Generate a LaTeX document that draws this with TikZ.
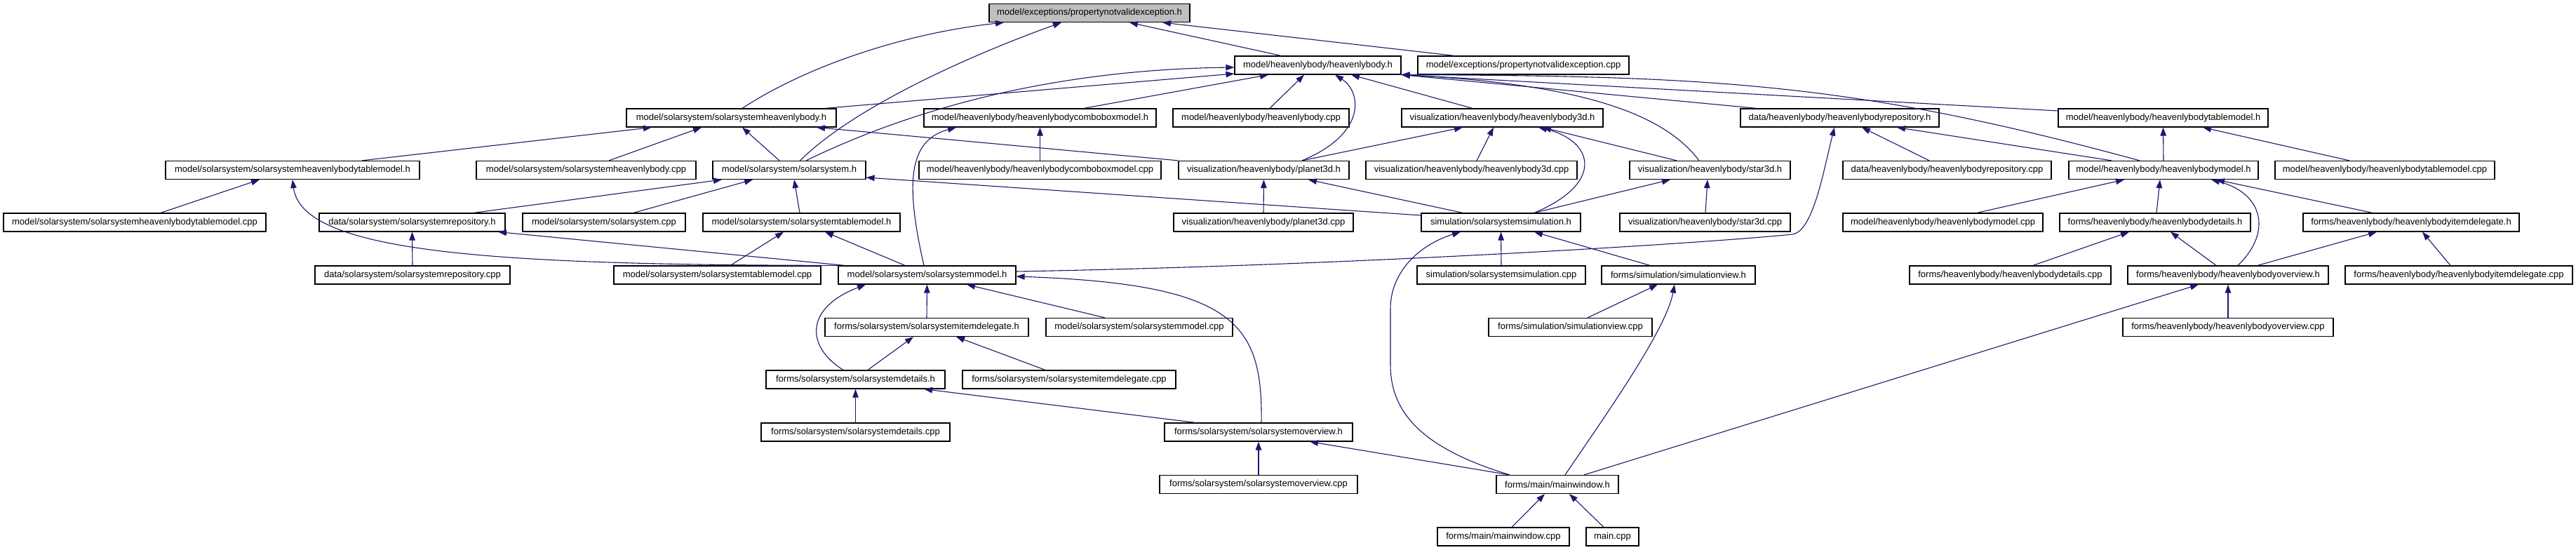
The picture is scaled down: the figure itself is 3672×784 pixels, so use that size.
\documentclass[tikz,border=0pt]{standalone}
\usepackage{fontspec}
\setmainfont{Liberation Sans}
\usetikzlibrary{arrows.meta}
\definecolor{edgeblue}{HTML}{191970}
\definecolor{rootgray}{HTML}{BFBFBF}
\tikzset{
  box/.style={draw=black, line width=1.2pt, fill=white, minimum height=26pt, inner sep=0pt, font=\fontsize{13}{15}\selectfont},
  rootbox/.style={box, fill=rootgray},
  dep/.style={draw=edgeblue, line width=1.1pt, -{Triangle[length=12pt,width=8.5pt]}},
}
\begin{document}
\begin{tikzpicture}[x=1pt,y=-1pt]
\fill[white] (0,0) rectangle (3672,784);
% row 0
\node[rootbox, minimum width=286pt] (n0) at (1553,18.5) {model/exceptions/propertynotvalidexception.h};
% row 1
\node[box, minimum width=237pt] (hbh) at (1878.5,93) {model/heavenlybody/heavenlybody.h};
\node[box, minimum width=301pt] (pnvecpp) at (2171.5,93) {model/exceptions/propertynotvalidexception.cpp};
% row 2
\node[box, minimum width=299pt] (sshbh) at (1042.5,168) {model/solarsystem/solarsystemheavenlybody.h};
\node[box, minimum width=331pt] (hbcomboh) at (1482.5,168) {model/heavenlybody/heavenlybodycomboboxmodel.h};
\node[box, minimum width=251pt] (hbcpp) at (1797.5,168) {model/heavenlybody/heavenlybody.cpp};
\node[box, minimum width=287pt] (hb3dh) at (2141.5,168) {visualization/heavenlybody/heavenlybody3d.h};
\node[box, minimum width=283pt] (hbrepoh) at (2622.5,168) {data/heavenlybody/heavenlybodyrepository.h};
\node[box, minimum width=299pt] (hbtableh) at (3083.5,168) {model/heavenlybody/heavenlybodytablemodel.h};
% row 3
\node[box, minimum width=362pt] (sshbtableh) at (417,242.5) {model/solarsystem/solarsystemheavenlybodytablemodel.h};
\node[box, minimum width=313pt] (sshbcpp) at (835.5,242.5) {model/solarsystem/solarsystemheavenlybody.cpp};
\node[box, minimum width=218pt] (ssh) at (1125,242.5) {model/solarsystem/solarsystem.h};
\node[box, minimum width=345pt] (hbcombocpp) at (1482.5,242.5) {model/heavenlybody/heavenlybodycomboboxmodel.cpp};
\node[box, minimum width=243pt] (planet3dh) at (1801.5,242.5) {visualization/heavenlybody/planet3d.h};
\node[box, minimum width=301pt] (hb3dcpp) at (2097.5,242.5) {visualization/heavenlybody/heavenlybody3d.cpp};
\node[box, minimum width=229pt] (star3dh) at (2437.5,242.5) {visualization/heavenlybody/star3d.h};
\node[box, minimum width=297pt] (hbrepocpp) at (2775.5,242.5) {data/heavenlybody/heavenlybodyrepository.cpp};
\node[box, minimum width=270pt] (hbmodelh) at (3084,242.5) {model/heavenlybody/heavenlybodymodel.h};
\node[box, minimum width=313pt] (hbtablecpp) at (3399.5,242.5) {model/heavenlybody/heavenlybodytablemodel.cpp};
% row 4
\node[box, minimum width=374pt] (sshbtablecpp) at (192,317) {model/solarsystem/solarsystemheavenlybodytablemodel.cpp};
\node[box, minimum width=265pt] (ssrepoh) at (587.5,317) {data/solarsystem/solarsystemrepository.h};
\node[box, minimum width=232pt] (sscpp) at (861,317) {model/solarsystem/solarsystem.cpp};
\node[box, minimum width=281pt] (sstableh) at (1142.5,317) {model/solarsystem/solarsystemtablemodel.h};
\node[box, minimum width=256pt] (planet3dcpp) at (1801,317) {visualization/heavenlybody/planet3d.cpp};
\node[box, minimum width=227pt] (simh) at (2139.5,317) {simulation/solarsystemsimulation.h};
\node[box, minimum width=243pt] (star3dcpp) at (2430.5,317) {visualization/heavenlybody/star3d.cpp};
\node[box, minimum width=285pt] (hbmodelcpp) at (2769.5,317) {model/heavenlybody/heavenlybodymodel.cpp};
\node[box, minimum width=272pt] (hbdetailsh) at (3072,317) {forms/heavenlybody/heavenlybodydetails.h};
\node[box, minimum width=308pt] (hbitemdelh) at (3437,317) {forms/heavenlybody/heavenlybodyitemdelegate.h};
% row 5
\node[box, minimum width=278pt] (ssrepocpp) at (588,392) {data/solarsystem/solarsystemrepository.cpp};
\node[box, minimum width=295pt] (sstablecpp) at (1022.5,392) {model/solarsystem/solarsystemtablemodel.cpp};
\node[box, minimum width=253pt] (ssmodelh) at (1321.5,392) {model/solarsystem/solarsystemmodel.h};
\node[box, minimum width=240pt] (simcpp) at (2140,392) {simulation/solarsystemsimulation.cpp};
\node[box, minimum width=219pt] (simviewh) at (2392.5,392) {forms/simulation/simulationview.h};
\node[box, minimum width=287pt] (hbdetailscpp) at (2865.5,392) {forms/heavenlybody/heavenlybodydetails.cpp};
\node[box, minimum width=286pt] (hboverviewh) at (3176,392) {forms/heavenlybody/heavenlybodyoverview.h};
\node[box, minimum width=324pt] (hbitemdelcpp) at (3505,392) {forms/heavenlybody/heavenlybodyitemdelegate.cpp};
% row 6
\node[box, minimum width=290pt] (ssitemdelh) at (1321,466.5) {forms/solarsystem/solarsystemitemdelegate.h};
\node[box, minimum width=266pt] (ssmodelcpp) at (1624,466.5) {model/solarsystem/solarsystemmodel.cpp};
\node[box, minimum width=233pt] (simviewcpp) at (2238.5,466.5) {forms/simulation/simulationview.cpp};
\node[box, minimum width=300pt] (hboverviewcpp) at (3176,466.5) {forms/heavenlybody/heavenlybodyoverview.cpp};
% row 7
\node[box, minimum width=255pt] (ssdetailsh) at (1219.5,541) {forms/solarsystem/solarsystemdetails.h};
\node[box, minimum width=304pt] (ssitemdelcpp) at (1524,541) {forms/solarsystem/solarsystemitemdelegate.cpp};
% row 8
\node[box, minimum width=269pt] (ssdetailscpp) at (1219.5,616) {forms/solarsystem/solarsystemdetails.cpp};
\node[box, minimum width=268pt] (ssoverviewh) at (1794,616) {forms/solarsystem/solarsystemoverview.h};
% row 9
\node[box, minimum width=282pt] (ssoverviewcpp) at (1794,690.5) {forms/solarsystem/solarsystemoverview.cpp};
\node[box, minimum width=174pt] (mainwindowh) at (2220,690.5) {forms/main/mainwindow.h};
% row 10
\node[box, minimum width=188pt] (mainwindowcpp) at (2143,765) {forms/main/mainwindow.cpp};
\node[box, minimum width=75pt] (maincpp) at (2298.5,765) {main.cpp};

% ---- edges (child -> included file) ----
% into root
\draw[dep] ([xshift=15.5pt]sshbh.north) .. controls (1158,89) and (1301,46) .. ([xshift=-122pt]n0.south);
\draw[dep] ([xshift=15.5pt]ssh.north) .. controls (1220,150) and (1393,75) .. ([xshift=-40pt]n0.south);
\draw[dep] ([xshift=-52.5pt]hbh.north) -- ([xshift=57pt]n0.south);
\draw[dep] ([xshift=-98.5pt]pnvecpp.north) -- ([xshift=104pt]n0.south);
% into heavenlybody.h
\draw[dep] ([xshift=133.5pt]sshbh.north) -- ([yshift=-12pt]hbh.west);
\draw[dep] ([xshift=24pt]ssh.north) .. controls (1250,180) and (1450,100) .. ([yshift=-3pt]hbh.west);
\draw[dep] ([xshift=62.5pt]hbcomboh.north) -- ([xshift=-70.5pt]hbh.south);
\draw[dep] ([xshift=12.5pt]hbcpp.north) -- ([xshift=-19.5pt]hbh.south);
\draw[dep] ([xshift=54.5pt]planet3dh.north) .. controls (1950,190) and (1940,130) .. ([xshift=24.5pt]hbh.south);
\draw[dep] ([xshift=-42.5pt]hb3dh.north) -- ([xshift=47.5pt]hbh.south);
\draw[dep] ([xshift=-15.5pt]star3dh.north) .. controls (2370,160) and (2250,120) .. (hbh.south east);
\draw[dep] ([xshift=-118.5pt]hbrepoh.north) -- (hbh.south east);
\draw[dep] ([xshift=-34pt]hbmodelh.north) .. controls (2650,120) and (2450,108) .. (hbh.south east);
\draw[dep] ([yshift=10pt]hbtableh.west) -- (hbh.south east);
% heavenlybodytablemodel.h
\draw[dep] (hbmodelh.north) -- (hbtableh.south);
\draw[dep] ([xshift=-50.5pt]hbtablecpp.north) -- ([xshift=56.5pt]hbtableh.south);
% heavenlybodyrepository.h
\draw[dep] ([xshift=-25.5pt]hbrepocpp.north) -- ([xshift=31.5pt]hbrepoh.south);
\draw[dep] ([xshift=-74pt]hbmodelh.north) -- ([xshift=81.5pt]hbrepoh.south);
\draw[dep] ([yshift=5pt]ssmodelh.east) .. controls (1950,378) and (2450,345) .. (2555,334) .. controls (2585,330) and (2600,240) .. ([xshift=-7.5pt]hbrepoh.south);
% heavenlybody3d.h
\draw[dep] ([xshift=54.5pt]planet3dh.north) -- ([xshift=-56.5pt]hb3dh.south);
\draw[dep] ([xshift=7.5pt]hb3dcpp.north) -- ([xshift=-12.5pt]hb3dh.south);
\draw[dep] ([xshift=47.5pt]simh.north) .. controls (2290,260) and (2270,200) .. ([xshift=51.5pt]hb3dh.south);
\draw[dep] ([xshift=-47.5pt]star3dh.north) -- ([xshift=57.5pt]hb3dh.south);
% star3d.h
\draw[dep] ([xshift=47.5pt]simh.north) -- ([xshift=-56.5pt]star3dh.south);
\draw[dep] ([xshift=0.5pt]star3dcpp.north) -- ([xshift=-3.5pt]star3dh.south);
% planet3d.h
\draw[dep] (planet3dcpp.north) -- (planet3dh.south);
\draw[dep] ([xshift=-54.5pt]simh.north) -- ([xshift=63.5pt]planet3dh.south);
% solarsystemheavenlybody.h
\draw[dep] (planet3dh.north west) -- ([xshift=121.5pt]sshbh.south);
\draw[dep] ([xshift=-14pt]ssh.north) -- ([xshift=15.5pt]sshbh.south);
\draw[dep] ([xshift=32.5pt]sshbcpp.north) -- ([xshift=-42.5pt]sshbh.south);
\draw[dep] ([xshift=99pt]sshbtableh.north) -- ([xshift=-113.5pt]sshbh.south);
% solarsystemheavenlybodytablemodel.h
\draw[dep] ([xshift=37pt]sshbtablecpp.north) -- ([xshift=-47pt]sshbtableh.south);
\draw[dep] (ssmodelh.north west) .. controls (700,378) and (430,360) .. (sshbtableh.south);
% solarsystemrepository.h
\draw[dep] (ssrepocpp.north) -- (ssrepoh.south);
\draw[dep] ([xshift=10pt]ssmodelh.north west) -- ([xshift=122.5pt]ssrepoh.south);
% solarsystem.h
\draw[dep] ([xshift=87.5pt]ssrepoh.north) -- ([xshift=-96pt]ssh.south);
\draw[dep] ([xshift=42pt]sscpp.north) -- ([xshift=-52pt]ssh.south);
\draw[dep] ([xshift=-2.5pt]sstableh.north) -- ([xshift=7pt]ssh.south);
\draw[dep] ([yshift=10pt]simh.west) -- ([yshift=-10.5pt]ssh.east);
% solarsystemtablemodel.h
\draw[dep] ([xshift=18.5pt]sstablecpp.north) -- ([xshift=-25.5pt]sstableh.south);
\draw[dep] ([xshift=-31.5pt]ssmodelh.north) -- ([xshift=33.5pt]sstableh.south);
% heavenlybodycomboboxmodel.h
\draw[dep] ([xshift=-4.5pt]ssmodelh.north) .. controls (1290,260) and (1295,200) .. ([xshift=-119.5pt]hbcomboh.south);
\draw[dep] (hbcombocpp.north) -- (hbcomboh.south);
% solarsystemsimulation.h
\draw[dep] (simcpp.north) -- (simh.south);
\draw[dep] ([xshift=-40.5pt]simviewh.north) -- ([xshift=47.5pt]simh.south);
\draw[dep] ([xshift=-68pt]mainwindowh.north) .. controls (2030,640) and (1982,590) .. (1982,520) -- (1982,440) .. controls (1982,390) and (2020,350) .. ([xshift=-57.5pt]simh.south);
% simulationview.h
\draw[dep] ([xshift=24.5pt]simviewcpp.north) -- ([xshift=-29.5pt]simviewh.south);
\draw[dep] ([xshift=11pt]mainwindowh.north) .. controls (2290,590) and (2375,470) .. ([xshift=-5.5pt]simviewh.south);
% mainwindow.h
\draw[dep] ([xshift=12pt]mainwindowcpp.north) -- ([xshift=-18pt]mainwindowh.south);
\draw[dep] ([xshift=-12.5pt]maincpp.north) -- ([xshift=17pt]mainwindowh.south);
% heavenlybodyoverview.h
\draw[dep] ([xshift=38pt]mainwindowh.north) -- ([xshift=-42pt]hboverviewh.south);
\draw[dep] (hboverviewcpp.north) -- (hboverviewh.south);
% solarsystemoverview.h
\draw[dep] ([xshift=-68pt]mainwindowh.north) -- ([xshift=73pt]ssoverviewh.south);
\draw[dep] (ssoverviewcpp.north) -- (ssoverviewh.south);
% solarsystemmodel.h
\draw[dep] ([xshift=4pt]ssoverviewh.north) .. controls (1800,460) and (1760,405) .. ([yshift=-2pt]ssmodelh.east);
\draw[dep] ([xshift=-17.5pt]ssdetailsh.north) .. controls (1150,495) and (1145,440) .. ([xshift=-87.5pt]ssmodelh.south);
\draw[dep] (ssitemdelh.north) -- (ssmodelh.south);
\draw[dep] ([xshift=-49pt]ssmodelcpp.north) -- ([xshift=56.5pt]ssmodelh.south);
% solarsystemdetails.h
\draw[dep] ([xshift=-90pt]ssoverviewh.north) -- ([xshift=97.5pt]ssdetailsh.south);
\draw[dep] (ssdetailscpp.north) -- (ssdetailsh.south);
% solarsystemitemdelegate.h
\draw[dep] ([xshift=17.5pt]ssdetailsh.north) -- ([xshift=-19pt]ssitemdelh.south);
\draw[dep] ([xshift=-34pt]ssitemdelcpp.north) -- ([xshift=42pt]ssitemdelh.south);
% heavenlybodymodel.h
\draw[dep] ([xshift=48.5pt]hbmodelcpp.north) -- ([xshift=-56pt]hbmodelh.south);
\draw[dep] ([xshift=2pt]hbdetailsh.north) -- ([xshift=-5pt]hbmodelh.south);
\draw[dep] ([xshift=14pt]hboverviewh.north) .. controls (3240,330) and (3225,275) .. ([xshift=68pt]hbmodelh.south);
\draw[dep] ([xshift=-55pt]hbitemdelh.north) -- ([xshift=75pt]hbmodelh.south);
% heavenlybodydetails.h
\draw[dep] ([xshift=32.5pt]hbdetailscpp.north) -- ([xshift=-37pt]hbdetailsh.south);
\draw[dep] ([xshift=-17pt]hboverviewh.north) -- ([xshift=22pt]hbdetailsh.south);
% heavenlybodyitemdelegate.h
\draw[dep] ([xshift=42pt]hboverviewh.north) -- ([xshift=-49pt]hbitemdelh.south);
\draw[dep] ([xshift=-12pt]hbitemdelcpp.north) -- ([xshift=16pt]hbitemdelh.south);
\end{tikzpicture}
\end{document}
